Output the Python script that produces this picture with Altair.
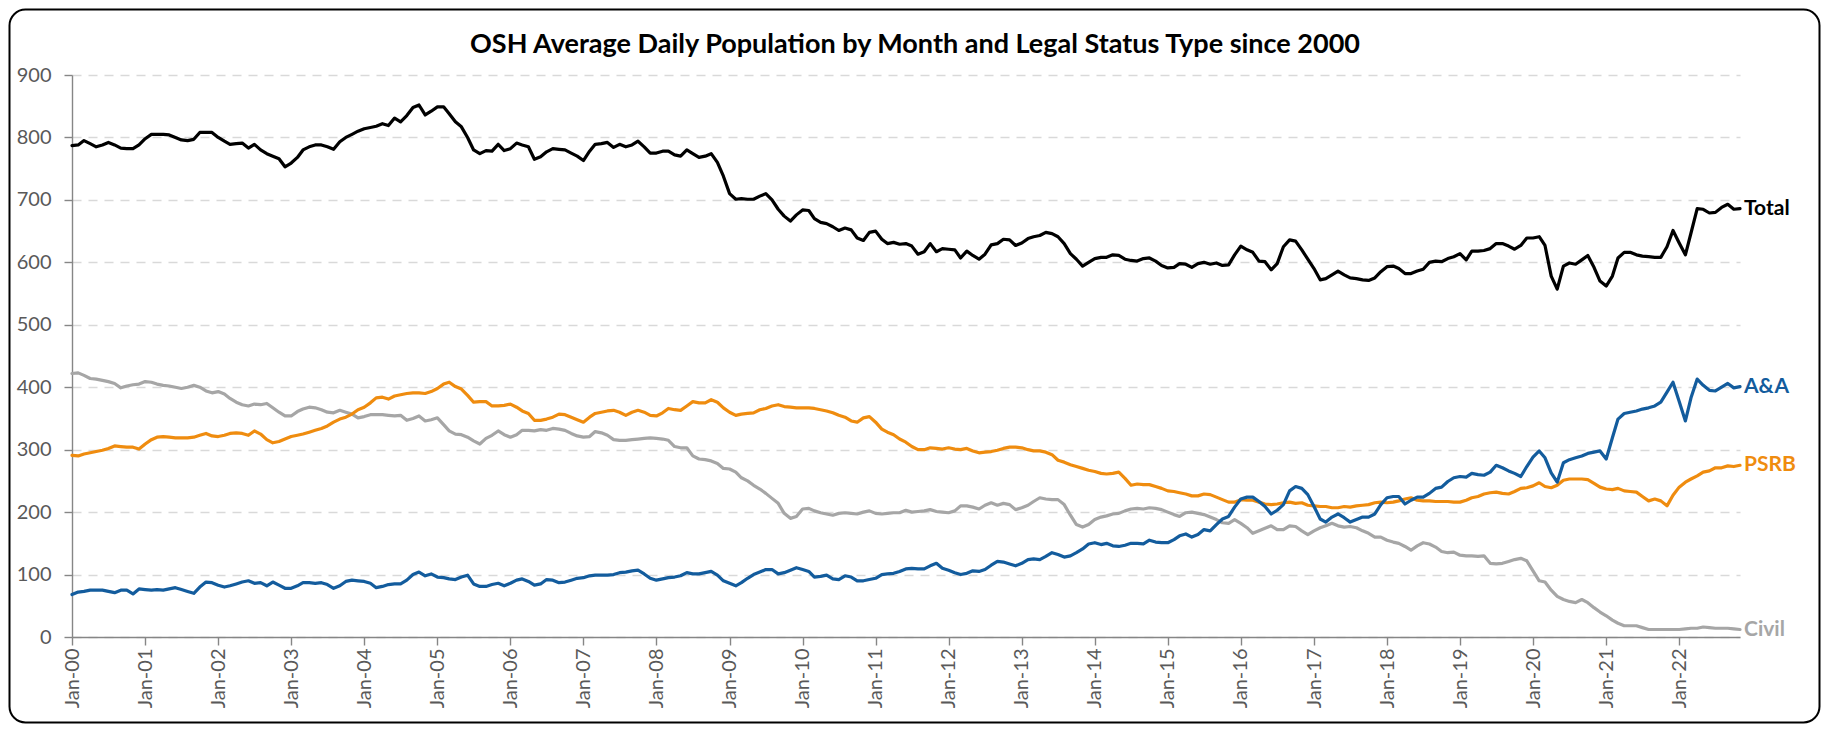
import altair as alt
import pandas as pd

# ---------------- data ----------------
months = pd.date_range("2000-01-01", periods=275, freq="MS")

total = [
    787, 788, 795, 790, 785, 788, 792, 788, 783, 782, 782, 788,
    798, 805, 805, 805, 804, 800, 796, 795, 797, 808, 808, 808,
    800, 794, 789, 790, 791, 783, 789, 780, 774, 770, 766, 753,
    759, 768, 780, 785, 788, 788, 785, 781, 793, 800, 805, 810,
    814, 816, 818, 822, 819, 831, 825, 835, 848, 852, 836, 842,
    849, 849, 838, 825, 817, 800, 780, 774, 779, 778, 789, 779,
    782, 791, 788, 785, 765, 769, 777, 782, 781, 780, 775, 770,
    763, 778, 789, 790, 792, 784, 789, 785, 788, 794, 785, 775,
    775, 778, 778, 772, 770, 780, 774, 768, 770, 774, 760, 738,
    710, 701, 702, 701, 701, 706, 710, 700, 685, 674, 666, 676,
    684, 683, 670, 664, 662, 657, 651, 655, 652, 639, 635, 648,
    650, 637, 630, 632, 629, 630, 626, 613, 617, 630, 617, 622,
    621, 620, 607, 618, 611, 605, 613, 628, 630, 637, 636, 627,
    631, 638, 641, 643, 648, 646, 641, 630, 614, 605, 594, 600,
    606, 608, 608, 612, 611, 605, 603, 602, 606, 607, 602, 595,
    591, 592, 598, 597, 592, 598, 600, 597, 599, 595, 596, 612,
    626, 620, 616, 602, 601, 588, 598, 625, 636, 634, 620, 605,
    590, 572, 574, 580, 586, 580, 575, 574, 572, 571, 575, 585,
    593, 594, 590, 582, 582, 586, 589, 600, 602, 601, 606, 609,
    614, 604, 618, 618, 619, 622, 630, 630, 626, 621, 627, 639,
    639, 641, 627, 578, 557, 594, 599, 597, 604, 611, 592, 570,
    562, 578, 607, 616, 616, 612, 610, 609, 608, 608, 625, 651,
    631, 612, 647, 686, 685, 679, 680, 688, 693, 685, 686,
]

aa = [
    68, 72, 73, 75, 75, 75, 73, 71, 75, 75, 69, 77,
    76, 75, 76, 75, 77, 79, 76, 73, 70, 80, 88, 87,
    83, 80, 82, 85, 88, 90, 86, 87, 82, 88, 83, 78,
    78, 82, 87, 87, 86, 87, 84, 78, 82, 89, 91, 90,
    89, 86, 79, 81, 84, 85, 85, 91, 100, 104, 98, 101,
    96, 95, 93, 92, 96, 99, 85, 81, 81, 84, 86, 82,
    86, 91, 93, 89, 83, 85, 92, 91, 87, 88, 91, 94,
    95, 98, 99, 99, 99, 100, 103, 104, 106, 107, 101, 94,
    91, 93, 95, 96, 98, 103, 101, 101, 103, 105, 99, 90,
    86, 82, 87, 94, 100, 104, 108, 108, 101, 103, 107, 111,
    108, 105, 96, 97, 99, 93, 92, 98, 96, 90, 90, 92,
    94, 100, 101, 102, 105, 109, 110, 109, 109, 114, 118, 110,
    107, 103, 100, 102, 106, 105, 108, 115, 121, 120, 117, 114,
    118, 124, 125, 124, 129, 135, 132, 128, 130, 135, 141, 149,
    151, 148, 150, 146, 145, 147, 150, 150, 149, 155, 152, 151,
    151, 156, 162, 165, 160, 164, 172, 170, 180, 189, 193, 208,
    221, 224, 224, 217, 209, 197, 203, 212, 234, 241, 238, 228,
    209, 189, 184, 192, 197, 191, 184, 188, 192, 192, 197, 212,
    223, 225, 225, 213, 219, 224, 224, 230, 238, 240, 249, 255,
    257, 256, 262, 260, 259, 264, 275, 271, 266, 262, 257, 273,
    288, 298, 287, 263, 248, 279, 284, 287, 290, 294, 296, 298,
    285, 319, 349, 358, 360, 362, 365, 367, 370, 376, 392, 408,
    377, 346, 383, 413, 403, 395, 394, 400, 406, 399, 401,
]

psrb = [
    291, 290, 293, 295, 297, 299, 302, 306, 305, 304, 304, 301,
    309, 316, 320, 321, 320, 319, 319, 319, 320, 323, 326, 322,
    321, 323, 326, 327, 326, 323, 330, 325, 316, 311, 313, 317,
    321, 323, 325, 328, 331, 334, 338, 344, 349, 352, 357, 364,
    368, 375, 383, 384, 381, 386, 388, 390, 391, 391, 390, 393,
    398, 405, 408, 401, 397, 387, 376, 377, 377, 370, 370, 371,
    373, 368, 362, 358, 347, 347, 349, 352, 357, 356, 352, 348,
    344, 352, 358, 360, 362, 363, 360, 355, 360, 363, 360, 355,
    354, 359, 366, 364, 363, 370, 377, 375, 375, 380, 376, 367,
    360, 355, 357, 358, 359, 364, 366, 370, 372, 369, 368, 367,
    367, 367, 366, 364, 362, 359, 355, 352, 346, 344, 351, 353,
    344, 333, 328, 324, 317, 312, 305, 300, 300, 303, 302, 301,
    303, 301, 300, 302, 298, 295, 296, 297, 299, 302, 304, 304,
    303, 300, 298, 298, 296, 292, 283, 280, 276, 273, 270, 267,
    265, 262, 261, 262, 264, 254, 243, 245, 244, 244, 241, 238,
    234, 233, 231, 229, 226, 226, 229, 228, 224, 220, 216, 216,
    220, 219, 219, 216, 213, 212, 213, 215, 216, 214, 215, 211,
    210, 209, 209, 207, 207, 209, 208, 210, 211, 212, 215, 216,
    215, 216, 218, 221, 223, 219, 218, 218, 217, 217, 217, 216,
    216, 219, 223, 225, 229, 231, 232, 230, 229, 233, 238, 239,
    242, 247, 241, 239, 243, 251, 253, 253, 253, 252, 246, 240,
    237, 236, 238, 234, 233, 232, 225, 218, 221, 218, 210, 227,
    240, 248, 253, 258, 264, 266, 271, 271, 274, 273, 275,
]

civil = [
    422, 423, 419, 414, 413, 411, 409, 406, 399, 402, 404, 405,
    409, 408, 405, 403, 402, 400, 398, 400, 403, 400, 394, 391,
    393, 389, 382, 376, 372, 370, 373, 372, 374, 367, 360, 354,
    354, 361, 365, 368, 367, 364, 360, 359, 363, 360, 357, 351,
    353, 356, 356, 356, 355, 354, 355, 347, 350, 354, 346, 348,
    351, 340, 330, 325, 324, 320, 314, 309, 318, 323, 330, 324,
    320, 324, 331, 331, 330, 332, 331, 334, 333, 331, 326, 322,
    320, 321, 329, 327, 323, 316, 315, 315, 316, 317, 318, 319,
    318, 317, 315, 305, 303, 303, 290, 285, 284, 282, 278, 270,
    269, 264, 255, 250, 243, 237, 230, 222, 214, 198, 190, 193,
    205, 206, 202, 199, 197, 195, 198, 199, 198, 197, 200, 202,
    198, 197, 198, 199, 199, 203, 200, 201, 202, 204, 201, 200,
    199, 202, 210, 210, 208, 205, 211, 215, 211, 214, 212, 204,
    207, 211, 217, 223, 221, 220, 220, 212, 195, 180, 176, 180,
    188, 192, 194, 197, 198, 202, 205, 206, 205, 207, 206, 204,
    200, 196, 193, 199, 200, 198, 196, 192, 188, 183, 182, 188,
    182, 175, 166, 170, 174, 178, 172, 172, 178, 177, 170, 164,
    170, 175, 178, 182, 178, 176, 177, 175, 170, 166, 160, 160,
    155, 152, 150, 145, 139, 146, 151, 149, 144, 137, 135, 136,
    131, 130, 130, 129, 130, 118, 117, 118, 121, 124, 126, 122,
    106, 90, 88, 75, 65, 60, 57, 55, 60, 55, 47, 40,
    34, 27, 22, 18, 18, 18, 15, 12, 12, 12, 12, 12,
    12, 13, 14, 14, 16, 15, 14, 14, 14, 13, 12,
]

series_names = ["Total", "A&A", "PSRB", "Civil"]
series_colors = ["#000000", "#135C9D", "#EF8C0F", "#A6A6A6"]
draw_order = ["Civil", "PSRB", "A&A", "Total"]
year_ticks = list(range(2000, 2023))
y_ticks = [0, 100, 200, 300, 400, 500, 600, 700, 800, 900]
title_text = "OSH Average Daily Population by Month and Legal Status Type since 2000"

# ---------------- table ----------------
values_by_name = {"Total": total, "A&A": aa, "PSRB": psrb, "Civil": civil}
rows = []
for name in draw_order:
    for d, v in zip(months, values_by_name[name]):
        rows.append({"month": d, "series": name, "value": v})
df = pd.DataFrame(rows)
last = df[df["month"] == months[-1]].copy()

# ---------------- layout ----------------
W, H = 1668, 562
PADL, PADT = 64, 67
TOTW, TOTH = 1813, 716
PADR = TOTW - PADL - W
PADB = TOTH - PADT - H
FONT = "Lato"

color = alt.Color(
    "series:N",
    scale=alt.Scale(domain=series_names, range=series_colors),
    legend=None,
)

x_enc = alt.X(
    "month:T",
    title=None,
    scale=alt.Scale(
        domain=[alt.DateTime(year=2000, month=1, date=1),
                alt.DateTime(year=2022, month=11, date=1)],
        nice=False,
    ),
    axis=alt.Axis(
        values=[alt.DateTime(year=yr, month=1, date=1) for yr in year_ticks],
        format="%b-%y",
        labelAngle=-90,
        labelFlush=False,
        labelOverlap=False,
        grid=False,
        tickSize=8,
        labelPadding=3,
    ),
)

y_enc = alt.Y(
    "value:Q",
    title=None,
    scale=alt.Scale(domain=[0, 900], nice=False),
    axis=alt.Axis(
        values=y_ticks,
        grid=True,
        gridDash=[9, 7],
        gridColor="#D9D9D9",
        gridWidth=1.4,
        tickSize=8,
        labelPadding=13,
    ),
)

frame = alt.Chart(pd.DataFrame({"frame": [0]})).mark_rect(
    fillOpacity=0,
    stroke="#000000",
    strokeWidth=2,
    cornerRadius=16,
).encode(
    x=alt.value(-PADL + 1.5),
    x2=alt.value(W + PADR - 1.5),
    y=alt.value(-PADT + 1.5),
    y2=alt.value(H + PADB - 1.5),
)

title = alt.Chart(pd.DataFrame({"title": [title_text]})).mark_text(
    align="center", baseline="alphabetic",
    font=FONT, fontSize=27, fontWeight="bold", color="#000000",
).encode(
    text="title:N",
    x=alt.value(W / 2 + 9),
    y=alt.value(-22),
)

lines = alt.Chart(df).mark_line(
    strokeWidth=3.2, strokeJoin="round", strokeCap="round"
).encode(x=x_enc, y=y_enc, color=color, detail="series:N")

labels = alt.Chart(last).mark_text(
    align="left", baseline="middle", dx=4,
    font=FONT, fontSize=21, fontWeight="bold",
).encode(
    x=alt.X("month:T"),
    y=alt.Y("value:Q"),
    text="series:N",
    color=color,
)

chart = (
    alt.layer(frame, title, lines, labels)
    .properties(
        width=W,
        height=H,
        padding={"left": PADL, "top": PADT, "right": PADR, "bottom": PADB},
        autosize=alt.AutoSizeParams(type="none"),
        background="#FFFFFF",
    )
    .configure_view(stroke=None)
    .configure_axis(
        labelFont=FONT,
        labelFontSize=20,
        labelColor="#595959",
        domainColor="#868686",
        domainWidth=1.4,
        tickColor="#868686",
        tickWidth=1.4,
    )
)

chart.save("out.html", embed_options={"renderer": "svg", "actions": False})
